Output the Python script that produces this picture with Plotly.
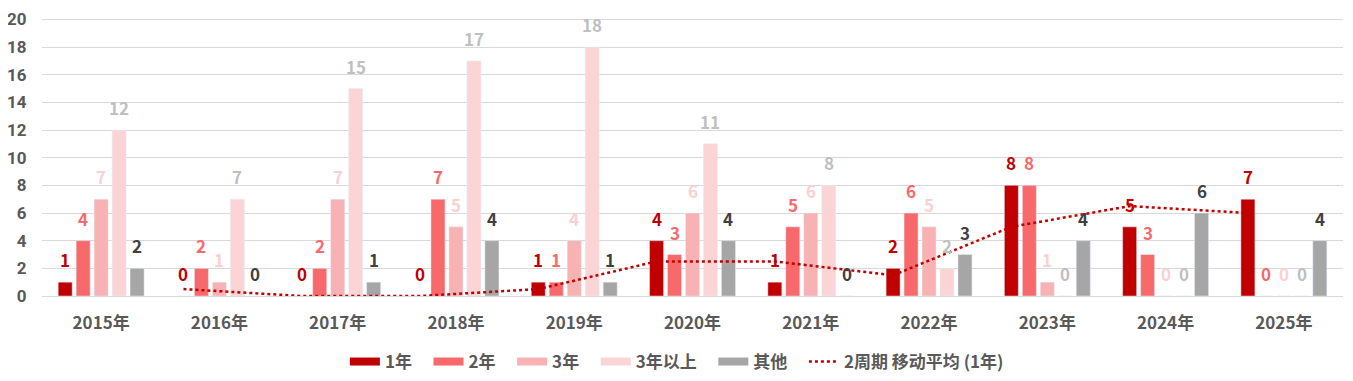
import plotly.graph_objects as go
import pandas as pd

years = ["2015年", "2016年", "2017年", "2018年", "2019年", "2020年", "2021年", "2022年", "2023年", "2024年", "2025年"]
series_names = ["1年", "2年", "3年", "3年以上", "其他"]
y1 = [1, 0, 0, 0, 1, 4, 1, 2, 8, 5, 7]
y2 = [4, 2, 2, 7, 1, 3, 5, 6, 8, 3, 0]
y3 = [7, 1, 7, 5, 4, 6, 6, 5, 1, 0, 0]
y3p = [12, 7, 15, 17, 18, 11, 8, 2, 0, 0, 0]
yother = [2, 0, 1, 4, 1, 4, 0, 3, 4, 6, 4]
y_ticks = [0, 2, 4, 6, 8, 10, 12, 14, 16, 18, 20]
trend_name = "2周期 移动平均 (1年)"

bar_colors = ["#C00000", "#F8696B", "#F8B2B4", "#FBD5D6", "#A6A6A6"]
label_colors = ["#C00000", "#F8696B", "#FBD0D1", "#BFBFBF", "#404040"]
FONT = "Noto Sans CJK SC"
TXT = "#595959"
PAD = "\u00a0\u00a0\u00a0"

all_series = [y1, y2, y3, y3p, yother]
n = len(years)
xs = list(range(n))
bargap = 0.24
slot = (1 - bargap) / len(all_series)

# moving average (period 2) trendline of 1年
ma = pd.Series(y1).rolling(2).mean().tolist()

fig = go.Figure()
for k, (name, vals) in enumerate(zip(series_names, all_series)):
    fig.add_trace(go.Bar(x=xs, y=vals, name=name, marker_color=bar_colors[k],
                         showlegend=False, hoverinfo="y"))

off1 = (0 - 2) * slot
fig.add_trace(go.Scatter(x=[x + off1 for x in xs], y=ma, mode="lines",
                         line=dict(color="#C00000", width=2.5, dash="dot"),
                         showlegend=False, hoverinfo="skip"))

# legend proxies
for k, name in enumerate(series_names):
    fig.add_trace(go.Scatter(x=[None], y=[None], mode="lines", name=name + PAD,
                             line=dict(color=bar_colors[k], width=8)))
fig.add_trace(go.Scatter(x=[None], y=[None], mode="lines", name=trend_name,
                         line=dict(color="#C00000", width=2.5, dash="dot")))

annotations = []
for k, vals in enumerate(all_series):
    off = (k - 2) * slot
    for i, v in enumerate(vals):
        annotations.append(dict(x=i + off, y=v, text=f"<b>{v}</b>", showarrow=False,
                                xanchor="center", yanchor="bottom", yshift=8,
                                font=dict(family=FONT, size=17, color=label_colors[k])))

fig.update_layout(
    width=1345, height=373,
    margin=dict(l=34, r=10, t=10, b=85, autoexpand=False),
    paper_bgcolor="white", plot_bgcolor="white",
    barmode="group", bargap=bargap, bargroupgap=0.22,
    annotations=annotations,
    font=dict(family=FONT, color=TXT),
    legend=dict(orientation="h", x=0.488, xanchor="center", y=0.051, yref="container",
                yanchor="middle", font=dict(family=FONT, size=17, color=TXT, weight="bold"),
                itemwidth=30, tracegroupgap=0),
    xaxis=dict(range=[-0.5, n - 0.5], tickmode="array", tickvals=xs, automargin=False,
               ticktext=[f"<b>{y}</b>" for y in years], showgrid=False, zeroline=False,
               showline=True, linecolor="#D9D9D9", linewidth=1,
               ticks="outside", ticklen=12, tickcolor="rgba(0,0,0,0)",
               ticklabeloverflow="allow",
               tickfont=dict(family=FONT, size=17, color=TXT)),
    yaxis=dict(range=[0, 20.1], tickmode="array", tickvals=y_ticks,
               showgrid=True, gridcolor="#D9D9D9", gridwidth=1,
               zeroline=False, showline=False, automargin=False,
               ticks="outside", ticklen=11, tickcolor="rgba(0,0,0,0)",
               ticklabeloverflow="allow",
               tickfont=dict(family="Roboto", size=17, color=TXT, weight="bold")),
)

fig.write_html("out.html")
